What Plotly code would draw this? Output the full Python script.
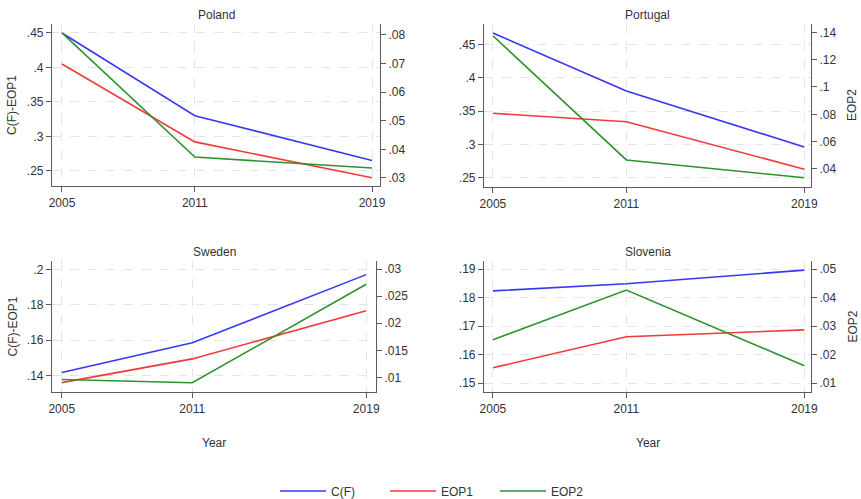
import plotly.graph_objects as go

W, H = 861, 499


def px_x(x):
    return x / W


def px_y(y):
    return 1 - y / H


years = [2005, 2011, 2019]
countries = ["Poland", "Portugal", "Sweden", "Slovenia"]

cf = {
    "Poland":   [0.450, 0.330, 0.265],
    "Portugal": [0.467, 0.380, 0.296],
    "Sweden":   [0.1417, 0.1585, 0.197],
    "Slovenia": [0.1824, 0.1849, 0.1897],
}
eop1 = {
    "Poland":   [0.405, 0.292, 0.240],
    "Portugal": [0.3466, 0.334, 0.2626],
    "Sweden":   [0.136, 0.1494, 0.1766],
    "Slovenia": [0.1554, 0.1663, 0.1687],
}
eop2 = {
    "Poland":   [0.0807, 0.0373, 0.0335],
    "Portugal": [0.1375, 0.0466, 0.0336],
    "Sweden":   [0.0096, 0.0090, 0.0272],
    "Slovenia": [0.0252, 0.0427, 0.0161],
}

left_ticks = {
    "Poland":   ([0.25, 0.30, 0.35, 0.40, 0.45], [".25", ".3", ".35", ".4", ".45"]),
    "Portugal": ([0.25, 0.30, 0.35, 0.40, 0.45], [".25", ".3", ".35", ".4", ".45"]),
    "Sweden":   ([0.14, 0.16, 0.18, 0.20], [".14", ".16", ".18", ".2"]),
    "Slovenia": ([0.15, 0.16, 0.17, 0.18, 0.19], [".15", ".16", ".17", ".18", ".19"]),
}
right_ticks = {
    "Poland":   ([0.03, 0.04, 0.05, 0.06, 0.07, 0.08], [".03", ".04", ".05", ".06", ".07", ".08"]),
    "Portugal": ([0.04, 0.06, 0.08, 0.10, 0.12, 0.14], [".04", ".06", ".08", ".1", ".12", ".14"]),
    "Sweden":   ([0.01, 0.015, 0.02, 0.025, 0.03], [".01", ".015", ".02", ".025", ".03"]),
    "Slovenia": ([0.01, 0.02, 0.03, 0.04, 0.05], [".01", ".02", ".03", ".04", ".05"]),
}
left_range = {
    "Poland": [0.228, 0.463],
    "Portugal": [0.236, 0.4805],
    "Sweden": [0.1307, 0.2047],
    "Slovenia": [0.1469, 0.1929],
}
right_range = {
    "Poland": [0.0272, 0.0838],
    "Portugal": [0.0268, 0.1461],
    "Sweden": [0.0073, 0.0315],
    "Slovenia": [0.00685, 0.0529],
}
# panel boxes in page pixels: x0, x1, ytop, ybottom
boxes = {
    "Poland": (52, 380, 24, 186),
    "Portugal": (484, 811, 24, 187),
    "Sweden": (52, 376, 261, 392),
    "Slovenia": (484, 811, 261, 392),
}
x_range = {
    "Poland": [2004.55, 2019.36],
    "Portugal": [2004.6, 2019.3],
    "Sweden": [2004.55, 2019.45],
    "Slovenia": [2004.6, 2019.3],
}

C_BLUE = "#3838f2"
C_RED = "#f03a3a"
C_GREEN = "#2e922e"
AX = "#5a5a5a"
GRID = "#e4e4e4"
TXT = "#333333"
FONT = "Liberation Sans, Arial, sans-serif"

fig = go.Figure()
layout = dict(
    template="none",
    width=W, height=H,
    margin=dict(l=0, r=0, t=0, b=0, autoexpand=False),
    paper_bgcolor="white", plot_bgcolor="white",
    font=dict(family=FONT, size=12, color=TXT),
    showlegend=True,
    legend=dict(orientation="h", x=px_x(275), xanchor="left", y=px_y(491), yanchor="middle",
                font=dict(size=12, color=TXT), itemwidth=46,
                tracegroupgap=0, entrywidthmode="pixels", entrywidth=49,
                bgcolor="rgba(0,0,0,0)"),
)

annotations = []
for i, c in enumerate(countries):
    n = i + 1
    xa = "x" if n == 1 else f"x{n}"
    yl = 2 * i + 1
    yr = 2 * i + 2
    yla = "y" if yl == 1 else f"y{yl}"
    x0, x1, yt, yb = boxes[c]
    xd = [px_x(x0), px_x(x1)]
    yd = [px_y(yb), px_y(yt)]
    xkey = "xaxis" if n == 1 else f"xaxis{n}"
    ylkey = "yaxis" if yl == 1 else f"yaxis{yl}"
    yrkey = f"yaxis{yr}"
    common = dict(showline=True, linecolor=AX, linewidth=1.2,
                  ticks="outside", ticklen=5, tickcolor=AX, tickwidth=1, zeroline=False,
                  automargin=False, tickfont=dict(size=12, color=TXT))
    layout[xkey] = dict(
        domain=xd, anchor=yla, range=x_range[c],
        tickvals=years, ticktext=[str(y) for y in years],
        showgrid=True, gridcolor=GRID, griddash="dash", gridwidth=1, **common)
    layout[ylkey] = dict(
        domain=yd, anchor=xa, range=left_range[c],
        tickvals=left_ticks[c][0], ticktext=left_ticks[c][1],
        showgrid=True, gridcolor=GRID, griddash="dash", gridwidth=1, **common)
    layout[yrkey] = dict(
        domain=yd, anchor=xa, overlaying=yla, side="right", range=right_range[c],
        tickvals=right_ticks[c][0], ticktext=right_ticks[c][1],
        showgrid=False, **common)
    show = (i == 0)
    fig.add_trace(go.Scatter(x=years, y=cf[c], mode="lines", name="C(F)",
                             line=dict(color=C_BLUE, width=1.6),
                             xaxis=xa, yaxis=yla, showlegend=show, legendgroup="cf"))
    fig.add_trace(go.Scatter(x=years, y=eop1[c], mode="lines", name="EOP1",
                             line=dict(color=C_RED, width=1.6),
                             xaxis=xa, yaxis=yla, showlegend=show, legendgroup="eop1"))
    fig.add_trace(go.Scatter(x=years, y=eop2[c], mode="lines", name="EOP2",
                             line=dict(color=C_GREEN, width=1.6),
                             xaxis=xa, yaxis=f"y{yr}", showlegend=show, legendgroup="eop2"))
    annotations.append(dict(text=c, x=px_x((x0 + x1) / 2), y=px_y(yt - 9),
                            xref="paper", yref="paper", showarrow=False,
                            xanchor="center", yanchor="middle",
                            font=dict(size=12, color=TXT)))

for ytop, ybot in [(24, 186), (261, 392)]:
    annotations.append(dict(text="C(F)-EOP1", x=px_x(12), y=px_y((ytop + ybot) / 2),
                            xref="paper", yref="paper", showarrow=False, textangle=-90,
                            xanchor="center", yanchor="middle",
                            font=dict(size=12, color=TXT)))
    annotations.append(dict(text="EOP2", x=px_x(852), y=px_y((ytop + ybot) / 2),
                            xref="paper", yref="paper", showarrow=False, textangle=-90,
                            xanchor="center", yanchor="middle",
                            font=dict(size=12, color=TXT)))
for cx in [214, 648]:
    annotations.append(dict(text="Year", x=px_x(cx), y=px_y(443),
                            xref="paper", yref="paper", showarrow=False,
                            xanchor="center", yanchor="middle",
                            font=dict(size=12, color=TXT)))

layout["annotations"] = annotations
fig.update_layout(**layout)
# remove the browser's default 8px body margin so the figure fills the window
fig.write_html("out.html",
               config={"displayModeBar": False},
               post_script="document.body.style.margin='0';document.body.style.overflow='hidden';")
